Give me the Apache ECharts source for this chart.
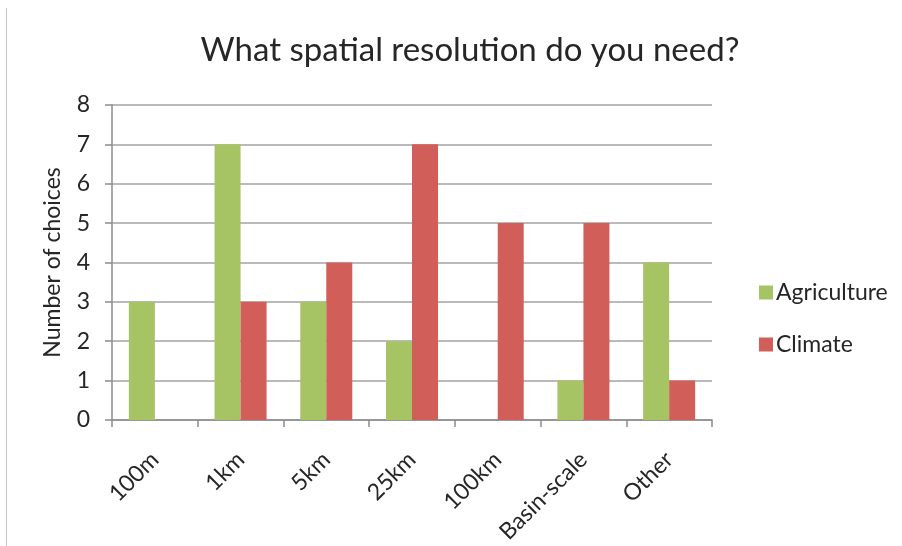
<!DOCTYPE html>
<html>
<head>
<meta charset="utf-8">
<script src="https://cdn.jsdelivr.net/npm/echarts@6/dist/echarts.min.js"></script>
<style>
  html, body { margin: 0; padding: 0; background: #ffffff; }
  #chart { width: 902px; height: 546px; }
</style>
</head>
<body>
<div id="chart"></div>
<script>
// Survey answers: preferred spatial resolution, by user group
const categories = ['100m', '1km', '5km', '25km', '100km', 'Basin-scale', 'Other'];
const agriculture = [3, 7, 3, 2, 0, 1, 4];
const climate = [0, 3, 4, 7, 5, 5, 1];
const yTicks = [0, 1, 2, 3, 4, 5, 6, 7, 8];

const FONT = 'Lato, "Open Sans", sans-serif';
const TEXT = '#262626';

const chart = echarts.init(document.getElementById('chart'), null, { renderer: 'canvas' });

chart.setOption({
  backgroundColor: '#ffffff',
  animation: false,
  title: {
    text: 'What spatial resolution do you need?',
    left: 465,
    top: 29,
    textAlign: 'center',
    textStyle: { fontFamily: FONT, fontSize: 33, fontWeight: 'normal', color: TEXT }
  },
  graphic: [
    { type: 'line', shape: { x1: 6.5, y1: 8, x2: 6.5, y2: 546 }, style: { stroke: '#c8c8c8', lineWidth: 1 } }
  ],
  legend: {
    orient: 'vertical',
    left: 754,
    top: 276,
    itemWidth: 14,
    itemHeight: 14,
    itemGap: 29,
    icon: 'rect',
    textStyle: { fontFamily: FONT, fontSize: 23, color: TEXT, padding: [0, 0, 0, -2] },
    data: ['Agriculture', 'Climate']
  },
  grid: { left: 112, right: 190, top: 105, bottom: 125, containLabel: false },
  xAxis: {
    type: 'category',
    data: categories,
    axisLine: { lineStyle: { color: '#8c8c8c', width: 1.5 } },
    axisTick: { show: true, length: 7, lineStyle: { color: '#8c8c8c', width: 1.5 } },
    axisLabel: {
      rotate: 45,
      margin: 36,
      fontFamily: FONT,
      fontSize: 23,
      color: TEXT
    }
  },
  yAxis: {
    type: 'value',
    min: yTicks[0],
    max: yTicks[yTicks.length - 1],
    interval: 1,
    name: 'Number of choices',
    nameLocation: 'middle',
    nameGap: 48,
    nameTextStyle: { fontFamily: FONT, fontSize: 23, color: TEXT },
    axisLine: { show: true, lineStyle: { color: '#8c8c8c', width: 1.5 } },
    axisTick: { show: true, length: 7, lineStyle: { color: '#8c8c8c', width: 1.5 } },
    splitLine: { show: true, lineStyle: { color: '#a3a3a3', width: 1.5 } },
    axisLabel: { margin: 22, fontFamily: FONT, fontSize: 23, color: TEXT }
  },
  series: [
    {
      name: 'Agriculture',
      type: 'bar',
      data: agriculture,
      barWidth: 26,
      barGap: '0%',
      itemStyle: { color: '#a6c463' }
    },
    {
      name: 'Climate',
      type: 'bar',
      data: climate,
      barWidth: 26,
      barGap: '0%',
      itemStyle: { color: '#d15e59' }
    }
  ]
});
</script>
</body>
</html>
